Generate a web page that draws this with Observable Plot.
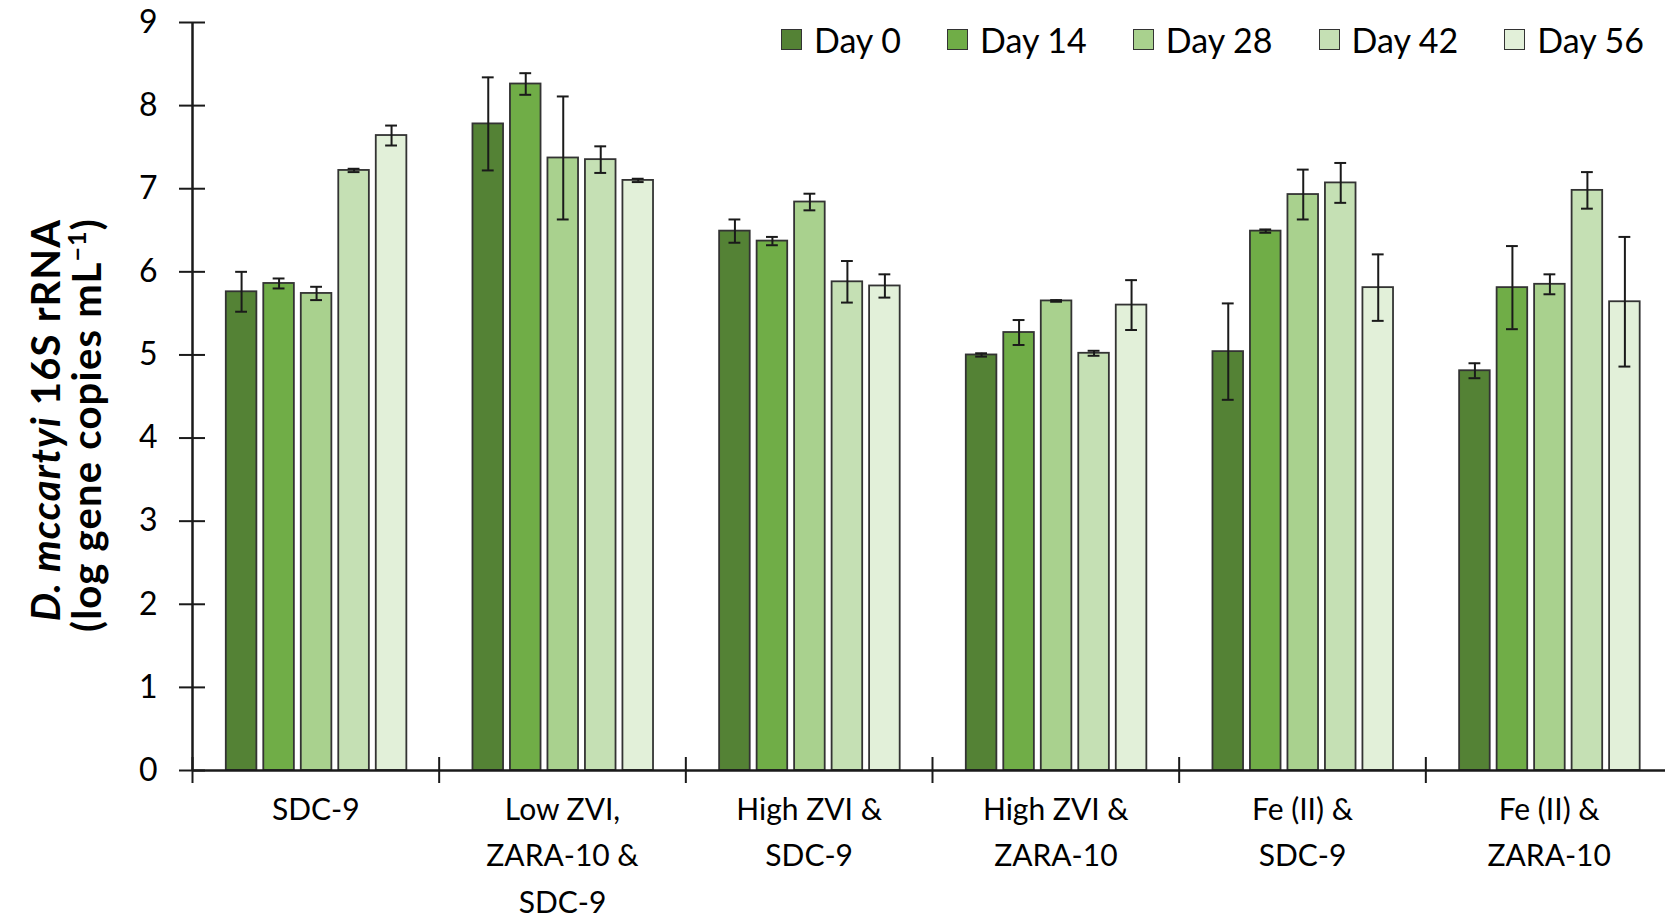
<!DOCTYPE html>
<html><head><meta charset="utf-8">
<script src="https://cdn.jsdelivr.net/npm/d3@7"></script>
<script src="https://cdn.jsdelivr.net/npm/@observablehq/plot@0.6"></script>
<style>
body{margin:0;background:#fff;font-family:Lato,"Open Sans",sans-serif;}
#wrap{position:relative;width:1665px;height:918px;overflow:hidden;}
#legend{position:absolute;top:19px;right:21px;display:flex;align-items:center;gap:46px;font-size:34px;color:#000;}
#legend .item{display:flex;align-items:center;}
#legend .sw{width:19px;height:19px;border:1.5px solid #333;margin-right:12px;}
</style></head><body><div id="wrap"><div id="legend"></div></div>
<script>
const groups = ["SDC-9","Low ZVI,\nZARA-10 &\nSDC-9","High ZVI &\nSDC-9","High ZVI &\nZARA-10","Fe (II) &\nSDC-9","Fe (II) &\nZARA-10"];
const days = ["Day 0","Day 14","Day 28","Day 42","Day 56"];
const colors = ["#548235","#70AD47","#A9D18E","#C5E0B4","#E2F0D9"];
const day0 = [5.76, 7.78, 6.49, 5.00, 5.04, 4.81];
const day0Err = [0.24, 0.56, 0.14, 0.02, 0.58, 0.09];
const day14 = [5.86, 8.26, 6.37, 5.27, 6.49, 5.81];
const day14Err = [0.06, 0.13, 0.05, 0.15, 0.02, 0.50];
const day28 = [5.74, 7.37, 6.84, 5.65, 6.93, 5.85];
const day28Err = [0.08, 0.74, 0.10, 0.01, 0.30, 0.12];
const day42 = [7.22, 7.35, 5.88, 5.02, 7.07, 6.98];
const day42Err = [0.02, 0.16, 0.25, 0.03, 0.24, 0.22];
const day56 = [7.64, 7.10, 5.83, 5.60, 5.81, 5.64];
const day56Err = [0.12, 0.02, 0.14, 0.30, 0.40, 0.78];
const yTicks = [0,1,2,3,4,5,6,7,8,9];

const series = [day0, day14, day28, day42, day56];
const errs = [day0Err, day14Err, day28Err, day42Err, day56Err];

// layout within a group (group units)
const off = 0.137, pitch = 0.152, bw = 0.124, cap = 0.024;
const rows = [];
groups.forEach((g, gi) => {
  days.forEach((d, di) => {
    const x1 = gi + off + di * pitch;
    rows.push({group: g, day: d, value: series[di][gi], err: errs[di][gi], x1, x2: x1 + bw, xc: x1 + bw / 2});
  });
});
const caps = rows.flatMap(r => [
  {y: r.value - r.err, x1: r.xc - cap, x2: r.xc + cap},
  {y: r.value + r.err, x1: r.xc - cap, x2: r.xc + cap}
]);
const boundaries = d3.range(groups.length + 1);
const centers = groups.map((g, i) => i + 0.5);

const ink = "#1a1a1a";
const chart = Plot.plot({
  width: 1665, height: 918,
  marginLeft: 192, marginRight: 0, marginTop: 22, marginBottom: 148,
  x: {type: "linear", domain: [0, 6], range: [192, 1672]},
  y: {domain: [0, 9]},
  color: {domain: days, range: colors},
  style: {fontFamily: "Lato, 'Open Sans', sans-serif", fontSize: "31px", color: "#000", background: "#fff", overflow: "visible"},
  marks: [
    Plot.rect(rows, {x1: "x1", x2: "x2", y1: 0, y2: "value", fill: "day", stroke: "#333", strokeWidth: 1.8}),
    Plot.ruleX(rows, {x: "xc", y1: d => d.value - d.err, y2: d => d.value + d.err, stroke: ink, strokeWidth: 2}),
    Plot.ruleY(caps, {y: "y", x1: "x1", x2: "x2", stroke: ink, strokeWidth: 2}),
    Plot.ruleY([0], {stroke: ink, strokeWidth: 2.5}),
    Plot.ruleX([0], {stroke: ink, strokeWidth: 2.5}),
    Plot.axisY({ticks: yTicks, tickSize: 26, dx: 13, tickPadding: 22, label: null, fontSize: 32, stroke: ink, strokeWidth: 2}),
    Plot.axisX({ticks: boundaries, tickSize: 26, dy: -13, tickFormat: () => "", label: null, stroke: ink, strokeWidth: 2}),
    Plot.axisX({ticks: centers, tickSize: 0, tickPadding: 16, tickFormat: d => groups[Math.floor(d)], label: null, fontSize: 30, lineHeight: 1.55})
  ]
});

// y-axis title
const svg = d3.select(chart);
const t1 = svg.append("text").attr("transform", "translate(60,420) rotate(-90)")
  .attr("text-anchor", "middle").attr("font-weight", "bold").attr("font-size", 40)
  .attr("letter-spacing", 1.2).attr("fill", "#000");
t1.append("tspan").attr("font-style", "italic").text("D. mccartyi");
t1.append("tspan").text(" 16S rRNA");
const t2 = svg.append("text").attr("transform", "translate(101,425) rotate(-90)")
  .attr("text-anchor", "middle").attr("font-weight", "bold").attr("font-size", 40)
  .attr("letter-spacing", 1.2).attr("fill", "#000");
t2.append("tspan").text("(log gene copies mL");
t2.append("tspan").attr("font-size", 25).attr("dy", -15).text("\u22121");
t2.append("tspan").attr("dy", 15).text(")");

document.getElementById("wrap").prepend(chart);

// legend
const legend = d3.select("#legend");
days.forEach((d, i) => {
  const it = legend.append("div").attr("class", "item");
  it.append("div").attr("class", "sw").style("background", colors[i]);
  it.append("span").text(d);
});
</script></body></html>
